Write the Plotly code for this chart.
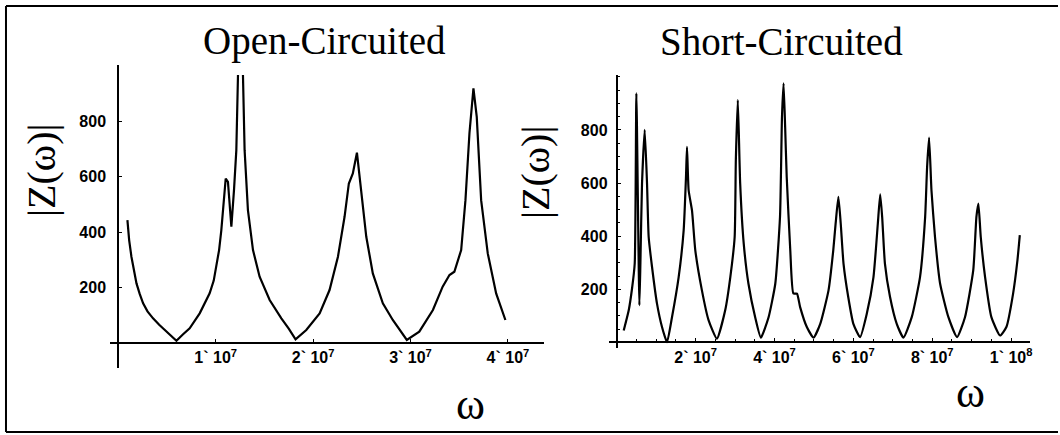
import plotly.graph_objects as go

# ---------------- data ----------------
open_omega = [0.094e7, 0.112e7, 0.135e7, 0.160e7, 0.187e7, 0.220e7, 0.255e7, 0.300e7, 0.357e7,
              0.420e7, 0.477e7, 0.540e7, 0.597e7, 0.660e7, 0.733e7, 0.836e7,
              0.938e7, 0.980e7, 1.007e7, 1.035e7, 1.058e7, 1.085e7, 1.103e7, 1.126e7, 1.161e7,
              1.188e7, 1.212e7, 1.229e7,
              None,
              1.280e7, 1.297e7, 1.331e7, 1.383e7, 1.451e7, 1.554e7, 1.674e7, 1.750e7, 1.820e7,
              1.930e7, 2.067e7, 2.169e7, 2.255e7, 2.323e7, 2.367e7, 2.408e7, 2.450e7, 2.494e7,
              2.546e7, 2.613e7, 2.716e7, 2.818e7, 2.887e7, 2.962e7, 3.090e7, 3.230e7, 3.330e7,
              3.400e7, 3.450e7, 3.520e7, 3.564e7, 3.605e7, 3.646e7, 3.680e7, 3.725e7, 3.793e7,
              3.879e7, 3.974e7]
open_z = [443, 370, 311, 258, 215, 177, 143, 114, 89,
          66, 47, 27, 8, 30, 53, 107,
          179, 225, 275, 335, 407, 520, 593, 581, 419,
          551, 695, 966,
          None,
          966, 695, 479, 335, 239, 155, 89, 52, 13,
          47, 107, 191, 311, 455, 575, 611, 686, 551,
          383, 251, 143, 83, 47, 11, 41, 119, 203,
          245, 257, 335, 515, 756, 918, 815, 515, 323,
          179, 83]

short_omega = [0.177e7, 0.304e7, 0.388e7, 0.456e7, 0.498e7, 0.574e7, 0.600e7, 0.641e7, 0.709e7,
               0.768e7, 0.810e7, 0.895e7, 1.021e7, 1.148e7, 1.274e7, 1.401e7, 1.570e7, 1.697e7,
               1.756e7, 1.781e7, 1.823e7, 1.908e7, 1.992e7, 2.160e7, 2.330e7, 2.540e7, 2.750e7,
               2.880e7, 2.990e7, 3.020e7, 3.070e7, 3.130e7, 3.220e7, 3.340e7, 3.510e7, 3.655e7,
               3.850e7, 4.020e7, 4.140e7, 4.190e7, 4.230e7, 4.270e7, 4.310e7, 4.400e7, 4.480e7,
               4.570e7, 4.650e7, 4.820e7, 4.990e7, 5.160e7, 5.370e7, 5.490e7, 5.550e7, 5.620e7,
               5.680e7, 5.750e7, 5.870e7, 6.000e7, 6.170e7, 6.340e7, 6.510e7, 6.620e7, 6.680e7,
               6.730e7, 6.800e7, 6.930e7, 7.100e7, 7.270e7, 7.480e7, 7.690e7, 7.820e7, 7.870e7,
               7.920e7, 7.980e7, 8.070e7, 8.200e7, 8.410e7, 8.630e7, 8.830e7, 9.040e7, 9.120e7,
               9.170e7, 9.230e7, 9.340e7, 9.500e7, 9.720e7, 9.880e7, 10.05e7, 10.16e7, 10.22e7]
short_z = [45, 121, 203, 297, 938, 140, 297, 598, 800,
           598, 397, 284, 146, 58, 1, 95, 246, 422,
           623, 736, 573, 497, 347, 196, 83, 14, 121,
           246, 397, 686, 913, 598, 372, 221, 95, 18,
           95, 221, 473, 850, 976, 812, 623, 347, 184,
           184, 133, 58, 18, 70, 196, 347, 447, 548,
           447, 297, 171, 70, 20, 108, 246, 447, 558,
           473, 297, 171, 70, 18, 95, 246, 473, 661,
           771, 573, 397, 221, 95, 20, 95, 272, 473,
           523, 397, 246, 95, 26, 58, 184, 309, 404]

open_xticks = [1e7, 2e7, 3e7, 4e7]
open_xtick_mant = ["1", "2", "3", "4"]
short_xticks = [2e7, 4e7, 6e7, 8e7, 1e8]
short_xtick_mant = ["2", "4", "6", "8", "1"]
short_xtick_exp = ["7", "7", "7", "7", "8"]
y_ticks = [200, 400, 600, 800]

titles = ["Open-Circuited", "Short-Circuited"]
y_label = "|Z(ω)|"
x_label = "ω"

# ---------------- layout geometry ----------------
W, H = 1060, 435
L_xr, L_yr = [-0.087e7, 4.37e7], [-90, 1002]
R_xr, R_yr = [-0.2e7, 1.048e8], [-21, 1007]
L_xd, L_yd = [110 / W, 545 / W], [(H - 368) / H, (H - 65) / H]
R_xd, R_yd = [610 / W, 1032 / W], [(H - 348) / H, (H - 75) / H]


def zero_pos(rng, dom):
    return dom[0] + (0 - rng[0]) / (rng[1] - rng[0]) * (dom[1] - dom[0])


serif = "Liberation Serif, Times New Roman, serif"
sans = "Liberation Sans, Arial, sans-serif"
tickfont = dict(family=sans, size=16, color="black")

fig = go.Figure()
fig.add_trace(go.Scatter(x=open_omega, y=open_z, mode="lines", xaxis="x", yaxis="y",
                         line=dict(color="black", width=2.2), connectgaps=False,
                         showlegend=False, hoverinfo="skip"))
fig.add_trace(go.Scatter(x=short_omega, y=short_z, mode="lines", xaxis="x2", yaxis="y2",
                         line=dict(color="black", width=2.2, shape="spline", smoothing=0.5),
                         showlegend=False, hoverinfo="skip"))

common = dict(showline=True, linecolor="black", linewidth=2, showgrid=False, zeroline=False,
              ticks="inside", ticklen=3, tickcolor="black", tickwidth=1, tickfont=tickfont,
              anchor="free", fixedrange=True)

fig.update_layout(
    width=W, height=H, autosize=False,
    margin=dict(l=0, r=0, t=0, b=0),
    paper_bgcolor="white", plot_bgcolor="white",
    xaxis=dict(domain=L_xd, range=L_xr, position=zero_pos(L_yr, L_yd),
               tickvals=open_xticks,
               ticktext=[f"<b>{m}` 10<sup>7</sup></b>" for m in open_xtick_mant],
               ticklabelstandoff=0, **common),
    yaxis=dict(domain=L_yd, range=L_yr, position=zero_pos(L_xr, L_xd),
               tickvals=y_ticks, ticktext=[f"<b>{v}</b>" for v in y_ticks],
               ticklabelstandoff=8, **common),
    xaxis2=dict(domain=R_xd, range=R_xr, position=zero_pos(R_yr, R_yd),
                tickvals=short_xticks,
                ticktext=[f"<b>{m}` 10<sup>{e}</sup></b>" for m, e in zip(short_xtick_mant, short_xtick_exp)],
                ticklabelstandoff=0,
                minor=dict(ticks="inside", ticklen=2, dtick=0.5e7, tickcolor="black"),
                **common),
    yaxis2=dict(domain=R_yd, range=R_yr, position=zero_pos(R_xr, R_xd),
                tickvals=y_ticks, ticktext=[f"<b>{v}</b>" for v in y_ticks],
                ticklabelstandoff=5,
                minor=dict(ticks="inside", ticklen=2, dtick=50, tickcolor="black"),
                **common),
)


def px_ann(text, x, y, size, angle=0):
    fig.add_annotation(text=text, x=x / W, y=(H - y) / H, xref="paper", yref="paper",
                       xanchor="center", yanchor="middle", showarrow=False, textangle=angle,
                       font=dict(family=serif, size=size, color="black"))


px_ann(titles[0], 325, 41, 39)
px_ann(titles[1], 783, 42, 39)
px_ann(y_label, 42, 170, 40, -90)
px_ann(y_label, 536, 172, 40, -90)
px_ann(x_label, 471, 404, 44)
px_ann(x_label, 972, 392, 44)

# scanned page frame: top, left and bottom edges
frame = dict(color="black", width=2)
fig.add_shape(type="line", xref="paper", yref="paper", x0=6 / W, x1=1, y0=(H - 6) / H, y1=(H - 6) / H, line=frame)
fig.add_shape(type="line", xref="paper", yref="paper", x0=6 / W, x1=6 / W, y0=(H - 6) / H, y1=(H - 432) / H, line=frame)
fig.add_shape(type="line", xref="paper", yref="paper", x0=6 / W, x1=1, y0=(H - 432) / H, y1=(H - 432) / H, line=frame)

fig.write_html("out.html", config={"displayModeBar": False},
               post_script="document.body.style.margin='0px';")
